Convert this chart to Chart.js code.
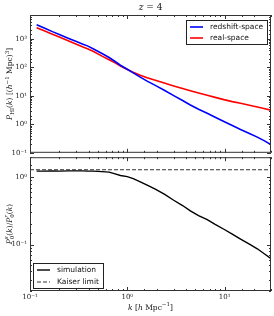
<!DOCTYPE html>
<html>
<head>
<meta charset="utf-8">
<script src="https://cdn.jsdelivr.net/npm/chart.js@4.4.1/dist/chart.umd.min.js"></script>
<style>
  html, body { margin: 0; padding: 0; background: #fff; }
  #wrap { position: relative; width: 274px; height: 316px; overflow: hidden; }
  #wrap canvas { position: absolute; left: 0; }
  #top { top: 0; }
  #bottom { top: 150px; }
</style>
</head>
<body>
<div id="wrap">
  <canvas id="top" width="274" height="160"></canvas>
  <canvas id="bottom" width="274" height="166"></canvas>
</div>
<script>
// wavenumbers k [h/Mpc]
const K = [0.117, 0.14, 0.17, 0.2, 0.25, 0.3, 0.35, 0.39, 0.45, 0.55, 0.65, 0.75, 0.85, 1.0,
  1.15, 1.36, 1.6, 1.94, 2.4, 3.0, 3.7, 4.45, 5.4, 6.63, 8.0, 9.84, 12, 14.6, 18, 21.7, 26, 29.8];

// P_HI(k), redshift-space and real-space
const P_REDSHIFT = [3160, 2450, 1820, 1445, 1047, 813, 661, 575, 447, 309, 224, 162, 120, 87,
  64.6, 45.7, 33.1, 23.4, 15.8, 10.2, 6.9, 4.8, 3.4, 2.45, 1.78, 1.26, 0.91, 0.66, 0.48, 0.355, 0.257, 0.195];
const P_REAL = [2510, 1950, 1480, 1175, 851, 661, 525, 457, 363, 251, 186, 145, 112, 85,
  67.6, 53.7, 43.6, 35.5, 28.2, 22.4, 18.2, 15.1, 12.6, 10.5, 8.9, 7.4, 6.3, 5.5, 4.7, 4.1, 3.55, 3.16];

// P0s/P0r from the simulation
const RATIO = [1.23, 1.23, 1.24, 1.23, 1.24, 1.24, 1.24, 1.23, 1.23, 1.21, 1.19, 1.12, 1.06, 1.02,
  0.95, 0.853, 0.76, 0.667, 0.56, 0.455, 0.38, 0.316, 0.27, 0.235, 0.20, 0.169, 0.143, 0.121, 0.102, 0.0867, 0.072, 0.0622];

const KAISER_K = [0.1, 30];
const KAISER = [1.29, 1.29];

const X_MIN = 0.1, X_MAX = 30;
const TOP_Y_MIN = 0.1, TOP_Y_MAX = 7000;
const BOT_Y_MIN = 0.0205, BOT_Y_MAX = 1.98;

const SUP = { "-": "\u207B", "0": "\u2070", "1": "\u00B9", "2": "\u00B2", "3": "\u00B3" };

const SERIF = '"DejaVu Serif", serif';
const SANS = '"DejaVu Sans", sans-serif';

function pts(xs, ys) {
  return xs.map((x, i) => ({ x: x, y: ys[i] }));
}

function isDecade(v) {
  const l = Math.log10(v);
  return Math.abs(l - Math.round(l)) < 1e-6;
}

function decadeLabel(v) {
  if (!isDecade(v)) return "";
  const e = String(Math.round(Math.log10(v)));
  return "10" + e.split("").map((c) => SUP[c]).join("");
}

// text with italic / sub / superscript parts, centred on (x, y baseline)
function drawRich(ctx, parts, x, y, rotate) {
  ctx.save();
  ctx.translate(x, y);
  if (rotate) ctx.rotate(-Math.PI / 2);
  ctx.fillStyle = "#111";
  ctx.textBaseline = "alphabetic";
  ctx.textAlign = "left";
  const w = parts.map((p) => { ctx.font = p.f; return ctx.measureText(p.t).width; });
  const pos = [];
  let cx = 0, start = 0;
  parts.forEach((p, i) => {
    if (p.stack) {
      pos.push(start);
      cx = Math.max(cx, start + w[i]);
    } else {
      start = cx;
      pos.push(cx);
      cx += w[i];
    }
  });
  parts.forEach((p, i) => {
    ctx.font = p.f;
    ctx.fillText(p.t, pos[i] - cx / 2, p.dy || 0);
  });
  ctx.restore();
}

const I8 = "italic 7.5px " + SERIF;
const R8 = "7.5px " + SERIF;
const S5 = "5.5px " + SERIF;
const IS5 = "italic 5.5px " + SERIF;

const frameTicks = {
  id: "frameTicks",
  afterDatasetsDraw(chart) {
    const { ctx, chartArea: a, scales } = chart;
    ctx.save();
    ctx.strokeStyle = "#333";
    ctx.lineWidth = 1;
    ctx.strokeRect(a.left + 0.5, a.top + 0.5, a.right - a.left - 1, a.bottom - a.top - 1);
    ctx.beginPath();
    scales.x.ticks.forEach((t) => {
      const px = Math.round(scales.x.getPixelForValue(t.value)) + 0.5;
      const len = isDecade(t.value) ? 4 : 2;
      ctx.moveTo(px, a.top); ctx.lineTo(px, a.top + len);
      ctx.moveTo(px, a.bottom); ctx.lineTo(px, a.bottom - len);
    });
    scales.y.ticks.forEach((t) => {
      const py = Math.round(scales.y.getPixelForValue(t.value)) + 0.5;
      const len = isDecade(t.value) ? 4 : 2;
      ctx.moveTo(a.left, py); ctx.lineTo(a.left + len, py);
      ctx.moveTo(a.right, py); ctx.lineTo(a.right - len, py);
    });
    ctx.stroke();
    ctx.restore();
  }
};

const legendBox = {
  id: "legendBox",
  afterDraw(chart, args, opts) {
    const { ctx, chartArea: a } = chart;
    const sets = chart.data.datasets;
    ctx.save();
    ctx.font = "7.5px " + SANS;
    const textW = Math.max(...sets.map((d) => ctx.measureText(d.label).width));
    const w = Math.round(4 + 13 + 7 + textW + 4);
    const h = Math.round(sets.length * opts.row + 1);
    const left = opts.right != null ? a.right - opts.right - w : a.left + opts.left;
    const top = opts.top != null ? a.top + opts.top : a.bottom - opts.bottom - h;
    ctx.fillStyle = "#fff";
    ctx.fillRect(left, top, w, h);
    ctx.strokeStyle = "#222";
    ctx.lineWidth = 1;
    ctx.strokeRect(left + 0.5, top + 0.5, w, h);
    sets.forEach((d, i) => {
      const cy = Math.round(top + opts.row * (i + 0.5)) + 1;
      ctx.strokeStyle = d.borderColor;
      ctx.lineWidth = d.borderWidth;
      ctx.setLineDash(d.borderDash || []);
      ctx.beginPath();
      ctx.moveTo(left + 4, cy);
      ctx.lineTo(left + 17, cy);
      ctx.stroke();
      ctx.setLineDash([]);
      ctx.fillStyle = "#111";
      ctx.textBaseline = "middle";
      ctx.fillText(d.label, left + 24, cy);
    });
    ctx.restore();
  }
};

const titles = {
  id: "titles",
  afterDraw(chart, args, opts) {
    const { ctx, chartArea: a } = chart;
    const mid = (a.left + a.right) / 2;
    if (opts.which === "top") {
      drawRich(ctx, [
        { t: "z", f: "italic 9px " + SERIF },
        { t: " = 4", f: "9px " + SERIF }
      ], mid, 10);
      drawRich(ctx, [
        { t: "P", f: I8 }, { t: "HI", f: S5, dy: 2 }, { t: "(", f: R8 }, { t: "k", f: I8 },
        { t: ") [(", f: R8 }, { t: "h", f: I8 }, { t: "\u22121", f: S5, dy: -3.5 },
        { t: " Mpc)", f: R8 }, { t: "3", f: S5, dy: -3.5 }, { t: "]", f: R8 }
      ], 12, (a.top + a.bottom) / 2, true);
    } else {
      drawRich(ctx, [
        { t: "P", f: I8 }, { t: "0", f: S5, dy: 2 }, { t: "s", f: IS5, dy: -3.5, stack: true },
        { t: "(", f: R8 }, { t: "k", f: I8 }, { t: ")/", f: R8 },
        { t: "P", f: I8 }, { t: "0", f: S5, dy: 2 }, { t: "r", f: IS5, dy: -3.5, stack: true },
        { t: "(", f: R8 }, { t: "k", f: I8 }, { t: ")", f: R8 }
      ], 11.5, (a.top + a.bottom) / 2, true);
      drawRich(ctx, [
        { t: "k", f: I8 }, { t: " [", f: R8 }, { t: "h", f: I8 }, { t: " Mpc", f: R8 },
        { t: "\u22121", f: S5, dy: -3.5 }, { t: "]", f: R8 }
      ], mid, a.bottom + 18.5);
    }
  }
};

function logAxis(min, max, showLabels) {
  return {
    type: "logarithmic",
    min: min,
    max: max,
    grid: { display: false, drawTicks: false, tickLength: 0 },
    border: { display: false },
    ticks: {
      display: showLabels,
      autoSkip: false,
      maxRotation: 0,
      padding: 3,
      color: "#222",
      font: { family: SERIF, size: 7 },
      callback: (v) => decadeLabel(v)
    }
  };
}

const common = {
  responsive: false,
  animation: false,
  devicePixelRatio: 1,
  elements: { point: { radius: 0 }, line: { tension: 0 } },
  plugins: { legend: { display: false }, tooltip: { enabled: false } }
};

const topX = logAxis(X_MIN, X_MAX, false);
topX.afterFit = (s) => { s.height = 0; };
const topY = logAxis(TOP_Y_MIN, TOP_Y_MAX, true);
topY.afterFit = (s) => { s.width = 30; };

new Chart(document.getElementById("top"), {
  type: "line",
  data: {
    datasets: [
      { label: "redshift-space", data: pts(K, P_REDSHIFT), borderColor: "#0000ff", borderWidth: 1.6 },
      { label: "real-space", data: pts(K, P_REAL), borderColor: "#ff0000", borderWidth: 1.6 }
    ]
  },
  options: Object.assign({}, common, {
    layout: { padding: { top: 15, right: 3, bottom: 6, left: 0 } },
    scales: { x: topX, y: topY },
    plugins: Object.assign({}, common.plugins, {
      legendBox: { right: 4, top: 5, row: 11.5 },
      titles: { which: "top" }
    })
  }),
  plugins: [frameTicks, legendBox, titles]
});

const botX = logAxis(X_MIN, X_MAX, true);
botX.afterFit = (s) => { s.height = 25; };
botX.ticks.padding = 2;
const botY = logAxis(BOT_Y_MIN, BOT_Y_MAX, true);
botY.afterFit = (s) => { s.width = 30; };

new Chart(document.getElementById("bottom"), {
  type: "line",
  data: {
    datasets: [
      { label: "simulation", data: pts(K, RATIO), borderColor: "#000000", borderWidth: 1.4 },
      { label: "Kaiser limit", data: pts(KAISER_K, KAISER), borderColor: "#333333", borderWidth: 1, borderDash: [4, 2] }
    ]
  },
  options: Object.assign({}, common, {
    layout: { padding: { top: 4, right: 3, bottom: 0, left: 0 } },
    scales: { x: botX, y: botY },
    plugins: Object.assign({}, common.plugins, {
      legendBox: { left: 3, bottom: 3, row: 12 },
      titles: { which: "bottom" }
    })
  }),
  plugins: [frameTicks, legendBox, titles]
});
</script>
</body>
</html>
